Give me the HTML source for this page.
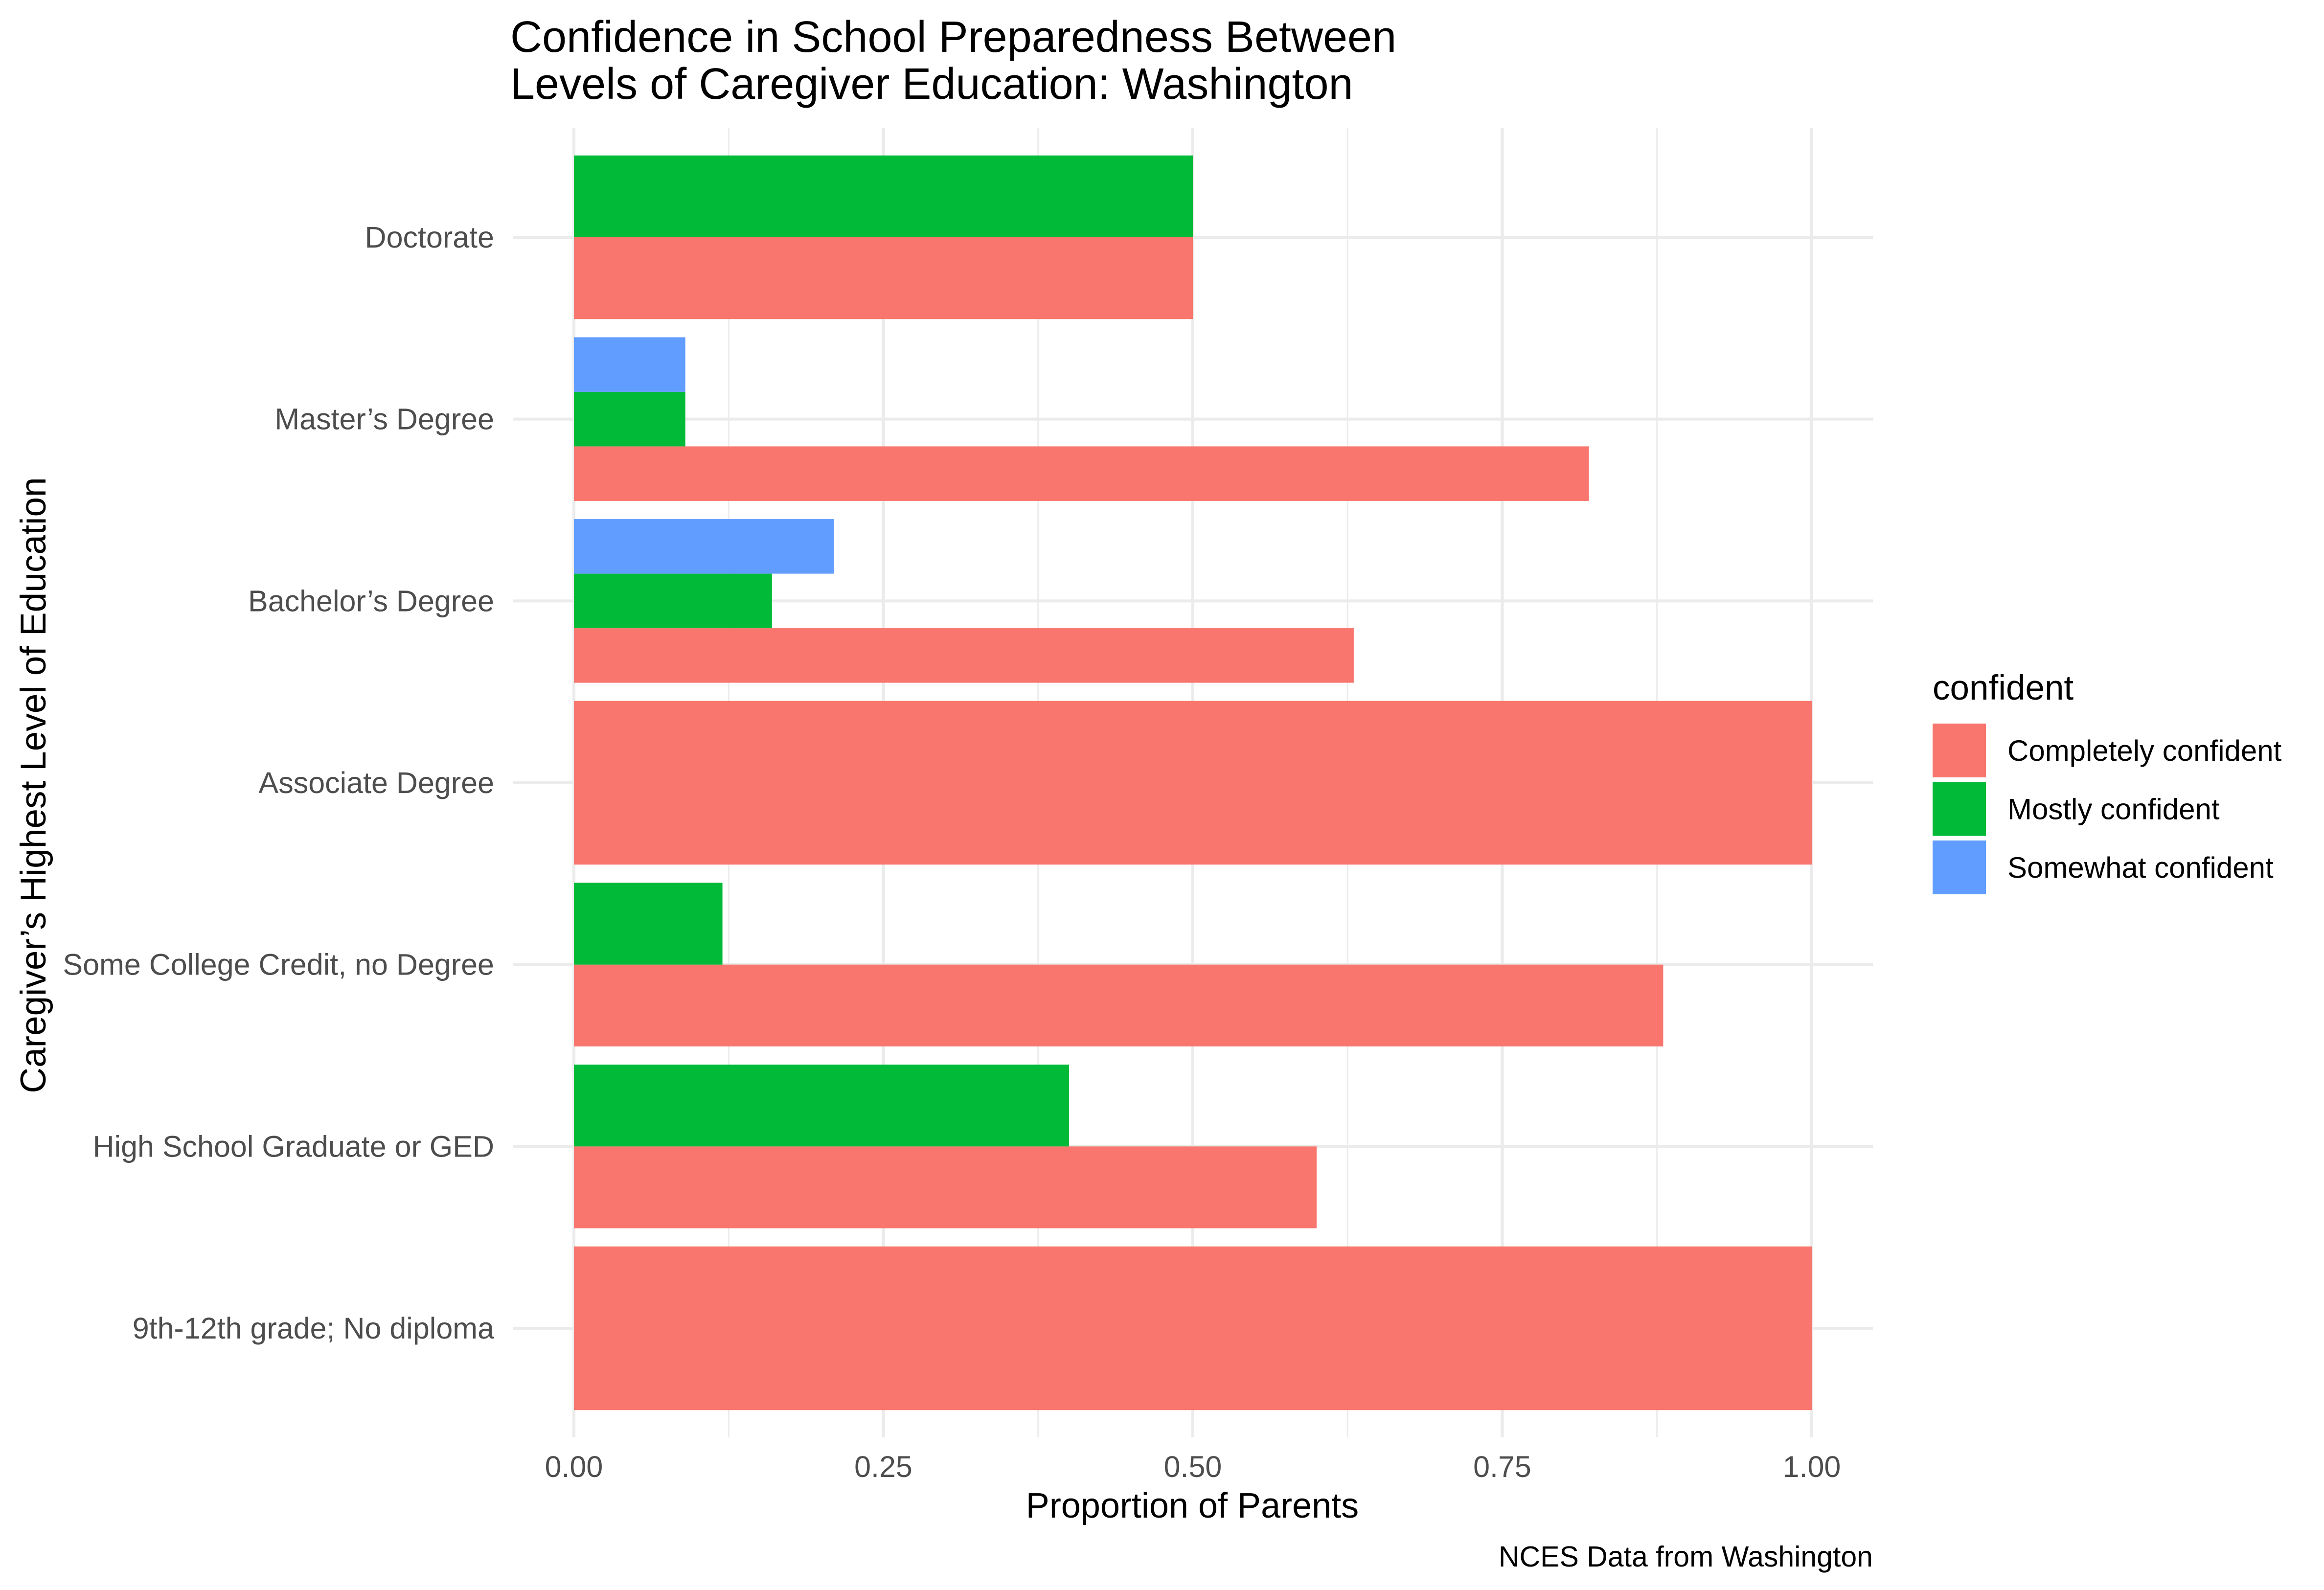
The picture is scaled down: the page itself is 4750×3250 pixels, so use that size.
<!DOCTYPE html>
<html><head><meta charset="utf-8"><style>
html,body{margin:0;padding:0;background:#fff}
svg{display:block;font-family:"Liberation Sans",Arial,sans-serif}
</style></head><body>
<svg id="chart" width="4750" height="3250" viewBox="0 0 4750 3250" xmlns="http://www.w3.org/2000/svg">
<g>
<text x="1043" y="106" font-size="90" fill="#000">Confidence in School Preparedness Between</text>
<text x="1043" y="202" font-size="90" fill="#000">Levels of Caregiver Education: Washington</text>
</g>
<g id="grid"></g>
<g id="bars"></g>
<g id="yticks"></g>
<g id="xticks"></g>
<text x="2437" y="3102" font-size="72" text-anchor="middle" fill="#000">Proportion of Parents</text>
<text transform="translate(93,1605) rotate(-90)" font-size="73" text-anchor="middle" fill="#000">Caregiver’s Highest Level of Education</text>
<text x="3828" y="3202" font-size="59" text-anchor="end" fill="#000">NCES Data from Washington</text>
<g id="legend">
<text x="3950" y="1430" font-size="71" fill="#000">confident</text>
</g>
</svg>
<script>
const categories = ["9th-12th grade; No diploma","High School Graduate or GED","Some College Credit, no Degree","Associate Degree","Bachelor’s Degree","Master’s Degree","Doctorate"];
const seriesNames = ["Completely confident","Mostly confident","Somewhat confident"];
const completelyValues = [1.0, 0.6, 0.88, 1.0, 0.63, 0.82, 0.5];
const mostlyValues = [null, 0.4, 0.12, null, 0.16, 0.09, 0.5];
const somewhatValues = [null, null, null, null, 0.21, 0.09, null];
const xTicks = [0, 0.25, 0.5, 0.75, 1.0];
const xTickLabels = ["0.00","0.25","0.50","0.75","1.00"];

const colors = ["#F8766D","#00BA38","#619CFF"];
const NS = "http://www.w3.org/2000/svg";
const x0 = 1173, x1 = 3703, panelL = 1048, panelR = 3828, panelT = 261, panelB = 2938;
const yBottom = 2715, yTop = 485;
const step = (yBottom - yTop) / (categories.length - 1);
const xs = v => x0 + v * (x1 - x0);
const yc = i => yBottom - i * step;
function mk(tag, attrs, parent){const e=document.createElementNS(NS,tag);for(const k in attrs)e.setAttribute(k,attrs[k]);parent.appendChild(e);return e;}

const grid = document.getElementById('grid');
for (let t = 0.125; t < 1.05; t += 0.25) {
  const l = mk('line',{x1:xs(t),x2:xs(t),y1:panelT,y2:panelB,stroke:'#ebebeb','stroke-width':3},grid);
  
  
}
xTicks.forEach(t=>{
  const l = mk('line',{x1:xs(t),x2:xs(t),y1:panelT,y2:panelB,stroke:'#ebebeb','stroke-width':6},grid);
  
  
});
categories.forEach((c,i)=>{
  const l = mk('line',{x1:panelL,x2:panelR,y1:yc(i),y2:yc(i),stroke:'#ebebeb','stroke-width':6},grid);
  
  
});

const bars = document.getElementById('bars');
const allSeries = [completelyValues, mostlyValues, somewhatValues];
const groupH = step * 0.9;
categories.forEach((c,i)=>{
  const present = [];
  allSeries.forEach((s,k)=>{ if (s[i] !== null && s[i] !== undefined) present.push(k); });
  const h = groupH / present.length;
  const bottom = yc(i) + groupH/2;
  present.forEach((k,j)=>{
    const v = allSeries[k][i];
    const r = mk('rect',{x:xs(0),y:bottom-(j+1)*h,width:xs(v)-xs(0),height:h,fill:colors[k]},bars);
    
    
  });
});

const yt = document.getElementById('yticks');
categories.forEach((c,i)=>{
  const t = mk('text',{x:1010,y:yc(i)+21,'font-size':61,'text-anchor':'end',fill:'#4d4d4d'},yt);
  t.textContent = c;
  
  
});
const xt = document.getElementById('xticks');
xTicks.forEach((v,i)=>{
  const t = mk('text',{x:xs(v),y:3019,'font-size':61,'text-anchor':'middle',fill:'#4d4d4d'},xt);
  t.textContent = xTickLabels[i];
  
  
});

const lg = document.getElementById('legend');
seriesNames.forEach((n,k)=>{
  const y = 1479 + k*119.5;
  const r = mk('rect',{x:3950,y:y,width:109,height:110,fill:colors[k]},lg);
  
  
  const t = mk('text',{x:4103,y:y+76,'font-size':60,fill:'#000'},lg);
  t.textContent = n;
  
  
});
</script>
</body></html>
